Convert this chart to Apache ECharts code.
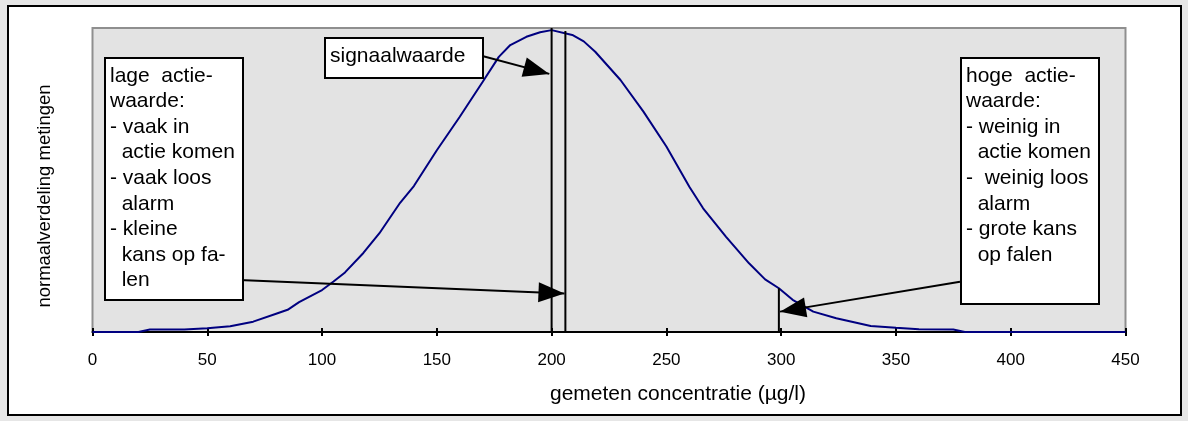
<!DOCTYPE html>
<html>
<head>
<meta charset="utf-8">
<script src="https://cdn.jsdelivr.net/npm/echarts@6/dist/echarts.min.js"></script>
<style>
	body { margin: 0; background: #e6e6e6; }
	#frame { position: absolute; left: 7px; top: 5px; width: 1171px; height: 407px; border: 2px solid #000; background: #fff; }
	#main { position: absolute; left: 0; top: 0; width: 1188px; height: 421px; }
</style>
</head>
<body>
<div id="frame"></div>
<div id="main"></div>
<script>
// gemeten concentratie (x) en normaalverdeling (y, 0-100)
const concentratie = [0, 20, 25, 40, 50, 60, 70, 80, 85, 90, 100, 105, 110, 118, 125, 134, 140, 150, 160, 170, 177, 182, 189, 195, 200, 209, 214, 219, 230, 240, 250, 260, 266, 276, 286, 293, 299, 305, 314, 324, 339, 350, 360, 375, 380, 450];
const verdeling = [0, 0, 0.8, 0.8, 1.2, 1.9, 3.4, 6.0, 7.3, 9.8, 13.8, 16.6, 19.6, 26, 32.5, 42.5, 48, 59.8, 70.8, 82.3, 90.5, 94.4, 97.1, 98.6, 99.3, 97.7, 95.6, 92.2, 82.9, 72.5, 61, 47.8, 40.7, 31.3, 22.6, 17.3, 14.4, 10.6, 6.7, 4.5, 2, 1.4, 0.9, 0.8, 0, 0];

// verticale lijnen: [x, hoogte]
const signaalLijn = [200, 100];
const lageLijn = [206, 99];
const hogeLijn = [299, 14.4];

// pijlen: [start, punt] in data-coordinaten
const pijlSignaal = [[168.2, 91.1], [199, 84.9]];
const pijlLaag = [[63.9, 17.1], [205.6, 12.7]];
const pijlHoog = [[377.9, 16.5], [299.5, 6.7]];

const xTicks = { min: 0, max: 450, interval: 50 };

const font = 'Arial, "Liberation Sans", sans-serif';

// driehoek met de punt in het midden van het vak
const pijlPunt = 'path://M-26,-26 M26,26 M0,0 L10,26 L-10,26 Z';

let curve = [];
for (let i = 0; i < concentratie.length; i++) {
	curve.push([concentratie[i], verdeling[i]]);
}

function vLine(one) {
	return {
		type: 'line',
		data: [[one[0], 0], [one[0], one[1]]],
		symbol: 'none',
		silent: true,
		lineStyle: { color: '#000', width: 2 },
		z: 5
	};
}

function arrow(p) {
	return [{ coord: p[0] }, { coord: p[1] }];
}

function box(x, y, w, h, text, tx, ty) {
	return [
		{
			type: 'rect',
			shape: { x: x, y: y, width: w, height: h },
			style: { fill: '#fff', stroke: '#000', lineWidth: 2 },
			z: 100
		},
		{
			type: 'text',
			x: tx,
			y: ty,
			style: {
				text: text,
				font: '21px ' + font,
				fill: '#000',
				lineHeight: 25.6,
				verticalAlign: 'top'
			},
			z: 101
		}
	];
}

let graphics = [];
graphics = graphics.concat(box(325, 38, 158, 40, 'signaalwaarde', 330, 43));
graphics = graphics.concat(box(105, 58, 138, 242,
	'lage  actie-\nwaarde:\n- vaak in\n  actie komen\n- vaak loos\n  alarm\n- kleine\n  kans op fa-\n  len', 110, 63));
graphics = graphics.concat(box(961, 58, 138, 246,
	'hoge  actie-\nwaarde:\n- weinig in\n  actie komen\n-  weinig loos\n  alarm\n- grote kans\n  op falen', 966, 63));

let myChart = echarts.init(document.getElementById('main'));
let option = {
	animation: false,
	backgroundColor: 'transparent',
	textStyle: { fontFamily: font },
	grid: {
		left: 92.5,
		right: 62.5,
		top: 28,
		bottom: 89,
		show: true,
		backgroundColor: '#e3e3e3',
		borderColor: '#8f8f8f',
		borderWidth: 2
	},
	xAxis: [
		{
			type: 'value',
			min: xTicks.min,
			max: xTicks.max,
			interval: xTicks.interval,
			name: 'gemeten concentratie (µg/l)',
			nameLocation: 'middle',
			nameGap: 52,
			nameTextStyle: { fontSize: 21, color: '#000', fontFamily: font, padding: [0, 0, 0, 138] },
			axisLine: { lineStyle: { color: '#000', width: 2 } },
			axisTick: { length: 4, lineStyle: { color: '#000', width: 2 } },
			axisLabel: { fontSize: 17, color: '#000', margin: 20, fontFamily: font },
			splitLine: { show: false }
		},
		{
			type: 'value',
			position: 'bottom',
			min: xTicks.min,
			max: xTicks.max,
			interval: xTicks.interval,
			axisLine: { show: false },
			axisTick: { inside: true, length: 4, lineStyle: { color: '#000', width: 2 } },
			axisLabel: { show: false },
			splitLine: { show: false }
		}
	],
	yAxis: {
		type: 'value',
		min: 0,
		max: 100,
		name: 'normaalverdeling metingen',
		nameLocation: 'middle',
		nameGap: 38,
		nameTextStyle: { fontSize: 18.5, color: '#000', fontFamily: font, padding: [0, 32, 0, 0] },
		axisLine: { show: false },
		axisTick: { show: false },
		axisLabel: { show: false },
		splitLine: { show: false }
	},
	series: [
		{
			name: 'normaalverdeling',
			type: 'line',
			data: curve,
			symbol: 'none',
			silent: true,
			lineStyle: { color: '#000080', width: 2 },
			z: 3
		},
		vLine(signaalLijn),
		vLine(lageLijn),
		Object.assign(vLine(hogeLijn), {
			markLine: {
				silent: true,
				symbol: ['none', pijlPunt],
				symbolSize: 52,
				label: { show: false },
				lineStyle: { color: '#000', width: 2, type: 'solid' },
				itemStyle: { color: '#000' },
				data: [arrow(pijlSignaal), arrow(pijlLaag), arrow(pijlHoog)]
			}
		})
	],
	graphic: graphics
};
myChart.setOption(option);
</script>
</body>
</html>
